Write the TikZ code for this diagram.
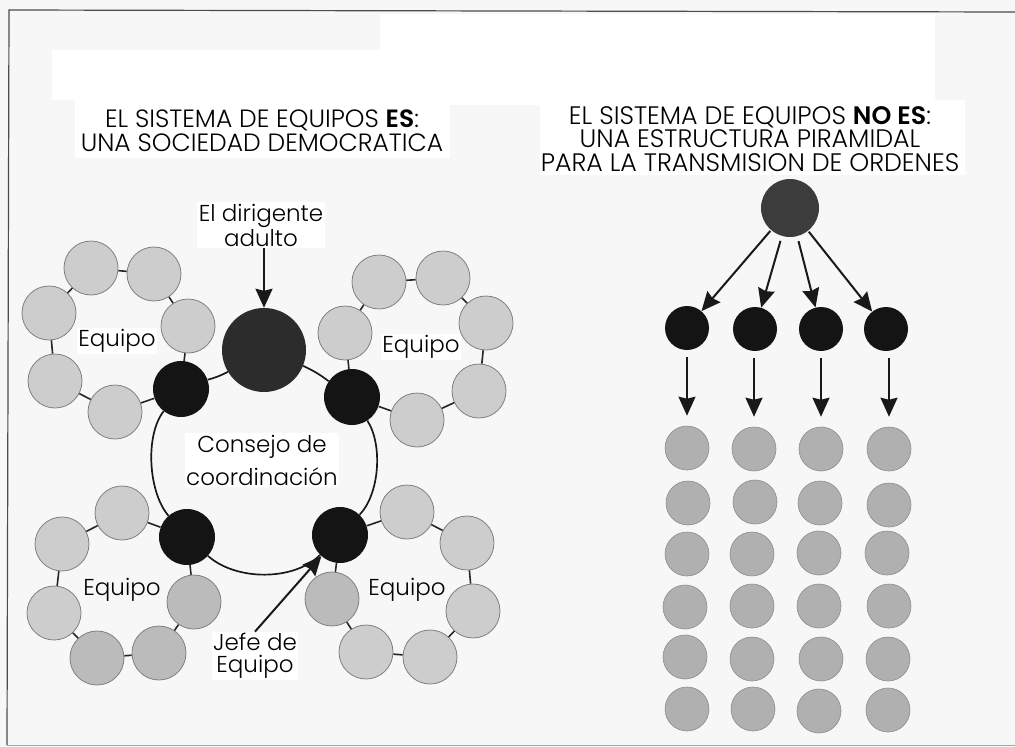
\documentclass[tikz,border=0pt]{standalone}
\usepackage{fontspec}
\setmainfont{Poppins Light}[BoldFont=Poppins SemiBold]
\usetikzlibrary{arrows.meta,backgrounds}
\definecolor{paper}{HTML}{F7F7F7}
\definecolor{lightdot}{HTML}{CDCDCD}
\definecolor{middot}{HTML}{BBBBBB}
\definecolor{griddot}{HTML}{B0B0B0}
\definecolor{darkdot}{HTML}{141414}
\definecolor{topdot}{HTML}{3C3C3C}
\tikzset{
  x=1pt,y=1pt,
  ldot/.style={circle,minimum size=54pt,inner sep=0,fill=lightdot,draw=black!50,line width=.8pt},
  mdot/.style={ldot,fill=middot},
  gdot/.style={circle,minimum size=44pt,inner sep=0,fill=griddot,draw=griddot!80!black,line width=.6pt},
  bdot/.style={circle,minimum size=56pt,inner sep=0,fill=darkdot},
  sdot/.style={circle,minimum size=44pt,inner sep=0,fill=darkdot},
  link/.style={line width=1.6pt,black!85},
  ring/.style={line width=1.7pt,black!90},
  pt/.style={line width=2pt,black!90,-{Stealth[length=19pt,width=17pt,inset=2pt]}},
  lab/.style={fill=white,font=\fontsize{23}{25}\selectfont,align=center,inner sep=1.5pt},
  head/.style={font=\fontsize{25}{24}\selectfont,align=center,inner sep=1pt},
  headb/.style={head,font=\fontsize{25.3}{23.5}\selectfont}
}
\begin{document}
\begin{tikzpicture}
\useasboundingbox (0,0) rectangle (1015,-747);
\fill[paper] (0,0) rectangle (1015,-747);
\fill[white] (52,-50) rectangle (380,-100);
\fill[white] (75,-100) rectangle (450,-158);
\fill[white] (380,-14) rectangle (935,-105);
\fill[white] (540,-100) rectangle (965,-175);
\draw[line width=1.2pt,black!70] (7,-745) -- (9,-10) -- (1015,-12);
\draw[line width=.5pt,black!35] (7,-745) -- (1015,-745);
% titles
\node[head] (t1) at (262,-131) {EL SISTEMA DE EQUIPOS \textbf{ES}:\\UNA SOCIEDAD DEMOCRATICA};
\node[headb] (t2) at (750,-139) {EL SISTEMA DE EQUIPOS \textbf{NO ES}:\\UNA ESTRUCTURA PIRAMIDAL\\PARA LA TRANSMISION DE ORDENES};
% council
\node[bdot,minimum size=84pt,fill=darkdot!90!white] (big) at (264,-350) {};
\node[bdot] (k1) at (181,-389) {};
\node[bdot] (k2) at (352,-397) {};
\node[bdot] (k3) at (187,-537) {};
\node[bdot] (k4) at (340,-535) {};
% team top-left
\node[ldot] (a1) at (188,-326) {};
\node[ldot] (a2) at (154,-274) {};
\node[ldot] (a3) at (91,-268) {};
\node[ldot] (a4) at (49,-313) {};
\node[ldot] (a5) at (55,-381) {};
\node[ldot] (a6) at (115,-412) {};
% team top-right
\node[ldot] (b1) at (345,-333) {};
\node[ldot] (b2) at (379,-282) {};
\node[ldot] (b3) at (443,-278) {};
\node[ldot] (b4) at (486,-323) {};
\node[ldot] (b5) at (479,-391) {};
\node[ldot] (b6) at (417,-420) {};
% team bottom-left
\node[ldot] (c1) at (122,-513) {};
\node[ldot] (c2) at (62,-544) {};
\node[ldot] (c3) at (54,-613) {};
\node[mdot] (c4) at (97,-658) {};
\node[mdot] (c5) at (159,-653) {};
\node[mdot] (c6) at (194,-602) {};
% team bottom-right
\node[ldot] (d1) at (407,-512) {};
\node[ldot] (d2) at (467,-543) {};
\node[ldot] (d3) at (473,-611) {};
\node[ldot] (d4) at (430,-657) {};
\node[ldot] (d5) at (366,-652) {};
\node[mdot] (d6) at (332,-599) {};
\foreach \k/\t in {k1/a,k2/b,k3/c,k4/d}{
  \draw[link] (\k) -- (\t1) -- (\t2) -- (\t3) -- (\t4) -- (\t5) -- (\t6) -- (\k);
}
\draw[ring] (big) to[bend left=6] (k1);
\draw[ring] (k1) to[out=232,in=131,looseness=.75] (k3);
\draw[ring] (k3) to[out=-42,in=225,looseness=.85] (k4);
\draw[ring] (k4) to[out=46,in=-57,looseness=.78] (k2);
\draw[ring] (k2) to[bend right=6] (big);
% labels left
\node[lab] (chief) at (261,-225) {El dirigente\\adulto};
\node[lab] (e1) at (117,-341) {Equipo};
\node[lab] (e2) at (421,-347) {Equipo};
\node[lab] (cc) at (262,-460) {Consejo de\\[8pt]coordinación};
\node[lab,fill=none,inner sep=0pt] (e3) at (122,-590) {Equipo};
\node[lab,fill=none,inner sep=0pt] (e4) at (407,-590) {Equipo};
\node[lab,font=\fontsize{23}{22}\selectfont] (jefe) at (255,-656) {Jefe de\\Equipo};
\draw[pt] (chief.south -| big) -- (big);
\draw[pt] (jefe.north) -- (k4);
% pyramid
\node[circle,minimum size=58pt,inner sep=0,fill=topdot] (top) at (790,-208) {};
\node[sdot] (p1) at (687,-328) {};
\node[sdot] (p2) at (755,-329) {};
\node[sdot] (p3) at (821,-329) {};
\node[sdot] (p4) at (886,-329) {};
\draw[pt,shorten <=1pt] (top) -- (p1);
\draw[pt,shorten <=5pt] (top) -- (p2);
\draw[pt,shorten <=5pt] (top) -- (p3);
\draw[pt,shorten <=1pt] (top) -- (p4);
\foreach \n/\x/\y in {
 q11/687/448,q12/754/449,q13/821/449,q14/889/449,
 q21/688/503,q22/755/502,q23/820/503,q24/889/505,
 q31/687/554,q32/752/554,q33/819/553,q34/887/553,
 q41/685/607,q42/752/606,q43/819/606,q44/889/606,
 q51/685/657,q52/752/659,q53/821/659,q54/888/659,
 q61/687/709,q62/753/709,q63/819/711,q64/888/710}{
  \node[gdot] (\n) at (\x,-\y) {};
}
\foreach \i in {1,2,3,4}{
  \draw[pt,shorten <=7pt,shorten >=10pt] (q1\i.north |- p\i.south) -- (q1\i);
}
\end{tikzpicture}
\end{document}
